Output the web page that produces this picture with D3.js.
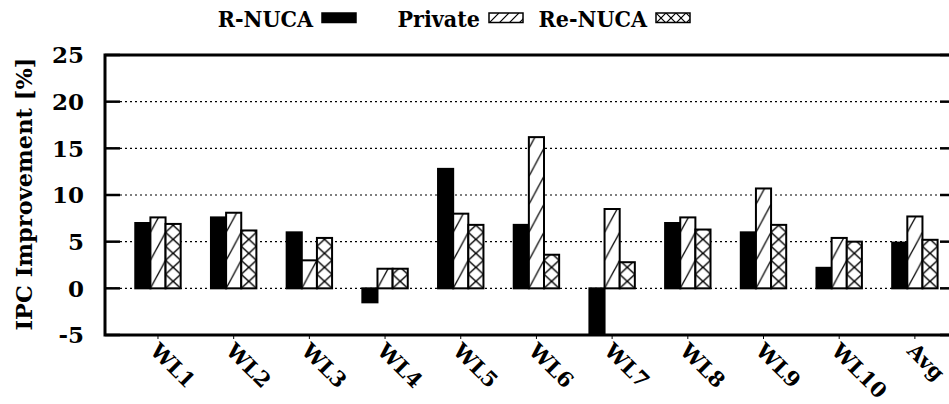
<!DOCTYPE html>
<html><head><meta charset="utf-8">
<script src="https://cdn.jsdelivr.net/npm/d3@7"></script>
<style>
body{margin:0;background:#fff;}
svg{display:block;}
text{font-family:"DejaVu Serif",serif;font-weight:bold;fill:#000;}
</style></head>
<body><div id="chart"></div>
<script>
const categories = ["WL1","WL2","WL3","WL4","WL5","WL6","WL7","WL8","WL9","WL10","Avg"];
const seriesNames = ["R-NUCA","Private","Re-NUCA"];
const rnuca  = [7.0, 7.6, 6.0, -1.5, 12.8, 6.8, -5.0, 7.0, 6.0, 2.2, 4.9];
const priv   = [7.6, 8.1, 3.0, 2.1, 8.0, 16.2, 8.5, 7.6, 10.7, 5.4, 7.7];
const renuca = [6.9, 6.2, 5.4, 2.1, 6.8, 3.6, 2.8, 6.3, 6.8, 5.0, 5.2];
const yTicks = [-5, 0, 5, 10, 15, 20, 25];
const yLabel = "IPC Improvement [%]";

(function(){
const W = 949, H = 404;
const svg = d3.select("#chart").append("svg").attr("width", W).attr("height", H);
const defs = svg.append("defs");

const pl = 105, pr = 955, pt = 55, pb = 335;
const y = d3.scaleLinear().domain([-5, 25]).range([pb, pt]);
const x = d3.scaleLinear().domain([-0.7, 10.53]).range([pl, pr]);
const bw = x(0.2) - x(0);
const FS = 23;

const clip = defs.append("clipPath").attr("id","plotclip");
clip.append("rect").attr("x", pl).attr("y", pt).attr("width", pr-pl).attr("height", pb-pt);

// grid lines
svg.append("g").selectAll("line").data(yTicks.filter(v => v > -5 && v < 25)).join("line")
  .attr("x1", pl).attr("x2", pr)
  .attr("y1", d => y(d)).attr("y2", d => y(d))
  .attr("stroke", "#000").attr("stroke-width", 1.2).attr("stroke-dasharray", "2,3");

// bars
const series = [rnuca, priv, renuca];
const bars = [];
series.forEach((arr, s) => arr.forEach((v, i) => bars.push({s, i, v})));

bars.forEach((d, k) => {
  const bx = x(d.i) + (d.s - 1.5) * bw;
  d.x = bx;
  if (d.s === 1) {
    const p = defs.append("pattern").attr("id", "pat" + k).attr("patternUnits", "userSpaceOnUse")
      .attr("x", bx).attr("y", y(0)).attr("width", bw).attr("height", 28);
    p.append("rect").attr("width", bw).attr("height", 28).attr("fill", "#fff");
    p.append("line").attr("x1", 0).attr("y1", 28).attr("x2", bw).attr("y2", 0)
      .attr("stroke", "#000").attr("stroke-width", 1.3);
  } else if (d.s === 2) {
    const p = defs.append("pattern").attr("id", "pat" + k).attr("patternUnits", "userSpaceOnUse")
      .attr("x", bx).attr("y", y(0)).attr("width", bw).attr("height", 14);
    p.append("rect").attr("width", bw).attr("height", 14).attr("fill", "#fff");
    p.append("line").attr("x1", 0).attr("y1", 0).attr("x2", bw).attr("y2", 14).attr("stroke", "#000").attr("stroke-width", 1.3);
    p.append("line").attr("x1", 0).attr("y1", 14).attr("x2", bw).attr("y2", 0).attr("stroke", "#000").attr("stroke-width", 1.3);
  }
});

svg.append("g").attr("clip-path", "url(#plotclip)")
  .selectAll("rect").data(bars).join("rect")
  .attr("x", d => d.x)
  .attr("y", d => y(Math.max(0, d.v)))
  .attr("width", bw)
  .attr("height", d => Math.abs(y(d.v) - y(0)))
  .attr("fill", (d, k) => d.s === 0 ? "#000" : "url(#pat" + k + ")")
  .attr("stroke", "#000").attr("stroke-width", 2);

// ticks left & right (inward)
const tk = svg.append("g");
tk.selectAll("line.l").data(yTicks).join("line").attr("class","l")
  .attr("x1", pl).attr("x2", pl + 15).attr("y1", d => y(d)).attr("y2", d => y(d))
  .attr("stroke", "#000").attr("stroke-width", 2.5);
tk.selectAll("line.r").data(yTicks).join("line").attr("class","r")
  .attr("x1", pr - 15).attr("x2", pr).attr("y1", d => y(d)).attr("y2", d => y(d))
  .attr("stroke", "#000").attr("stroke-width", 2.5);
tk.selectAll("line.x").data(categories).join("line").attr("class","x")
  .attr("x1", (d, i) => x(i)).attr("x2", (d, i) => x(i))
  .attr("y1", pb).attr("y2", pb + 4)
  .attr("stroke", "#000").attr("stroke-width", 1);

// frame
svg.append("rect").attr("x", pl).attr("y", pt).attr("width", pr - pl).attr("height", pb - pt)
  .attr("fill", "none").attr("stroke", "#000").attr("stroke-width", 3);

// y tick labels
svg.append("g").selectAll("text").data(yTicks).join("text")
  .attr("x", 84).attr("y", d => y(d)).attr("dy", "0.36em")
  .attr("text-anchor", "end").attr("font-size", FS)
  .text(d => d);

// y label
svg.append("text").attr("transform", "translate(32," + ((pt + pb) / 2 - 1) + ") rotate(-90)")
  .attr("text-anchor", "middle").attr("font-size", FS - 0.5).text(yLabel);

// x labels
svg.append("g").selectAll("text").data(categories).join("text")
  .attr("transform", (d, i) => "translate(" + (x(i) - 9) + "," + (pb + 17) + ") rotate(45)")
  .attr("text-anchor", "start").attr("font-size", 21)
  .text(d => d);

// legend: equal-width columns, text right-justified before its sample box
const colW = 167, bx0 = 322, boxW = 34;
const lg = svg.append("g");
seriesNames.forEach((name, s) => {
  const bx = bx0 + s * colW;
  lg.append("text").attr("transform", "translate(" + (bx - 9) + ",27) scale(0.9,1)")
    .attr("text-anchor", "end").attr("font-size", FS).text(name);
  if (s === 1) {
    const p = defs.append("pattern").attr("id", "legpat1").attr("patternUnits", "userSpaceOnUse")
      .attr("x", bx).attr("y", 13).attr("width", 10).attr("height", 10);
    p.append("rect").attr("width", 10).attr("height", 10).attr("fill", "#fff");
    p.append("line").attr("x1", 0).attr("y1", 10).attr("x2", 10).attr("y2", 0).attr("stroke", "#000").attr("stroke-width", 1.2);
  } else if (s === 2) {
    const p = defs.append("pattern").attr("id", "legpat2").attr("patternUnits", "userSpaceOnUse")
      .attr("x", bx).attr("y", 13).attr("width", 10).attr("height", 10);
    p.append("rect").attr("width", 10).attr("height", 10).attr("fill", "#fff");
    p.append("line").attr("x1", 0).attr("y1", 0).attr("x2", 10).attr("y2", 10).attr("stroke", "#000").attr("stroke-width", 1.2);
    p.append("line").attr("x1", 0).attr("y1", 10).attr("x2", 10).attr("y2", 0).attr("stroke", "#000").attr("stroke-width", 1.2);
  }
  lg.append("rect").attr("x", bx).attr("y", 13).attr("width", boxW).attr("height", 9.5)
    .attr("fill", s === 0 ? "#000" : "url(#legpat" + s + ")")
    .attr("stroke", "#000").attr("stroke-width", 1.5);
});
})();
</script></body></html>
